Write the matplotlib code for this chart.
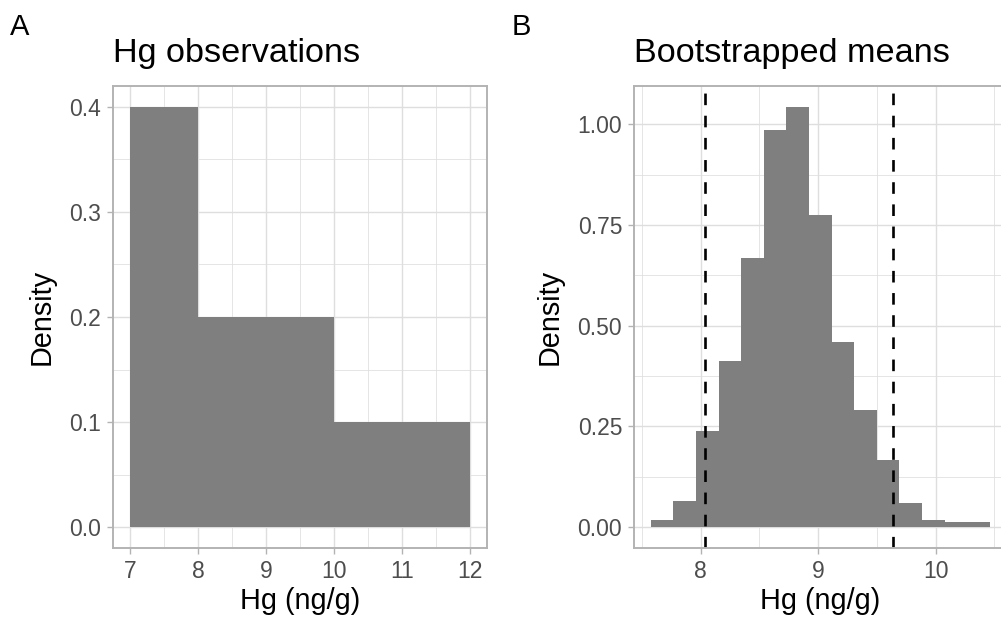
import numpy as np
import matplotlib
matplotlib.use("Agg")
import matplotlib.pyplot as plt
from matplotlib.ticker import MultipleLocator

plt.rcParams['font.family'] = ['Liberation Sans', 'DejaVu Sans']

# panel A: observed Hg histogram
obs_edges = [7, 8, 10, 12]
obs_density = [0.4, 0.2, 0.1]

# panel B: bootstrapped means histogram
boot_edges = [7.576, 7.768, 7.961, 8.153, 8.345, 8.538, 8.730, 8.922,
              9.115, 9.307, 9.499, 9.692, 9.884, 10.076, 10.269, 10.461]
boot_density = [0.0165, 0.0635, 0.239, 0.412, 0.667, 0.986, 1.043, 0.776,
                0.459, 0.291, 0.167, 0.0585, 0.0165, 0.0115, 0.0115]
ci_bounds = [8.037, 9.64]

BAR = '#7F7F7F'
GRID = '#DEDEDE'
BORDER = '#B3B3B3'
TXT = '#4D4D4D'

W, H = 1001, 621
fig = plt.figure(figsize=(W / 100, H / 100), dpi=100)


def expand(lo, hi, f=0.05):
    d = (hi - lo) * f
    return lo - d, hi + d


def style(ax, xmaj, xmin, ymaj, ymin):
    ax.set_axisbelow(True)
    ax.xaxis.set_major_locator(MultipleLocator(xmaj))
    ax.xaxis.set_minor_locator(MultipleLocator(xmin))
    ax.yaxis.set_major_locator(MultipleLocator(ymaj))
    ax.yaxis.set_minor_locator(MultipleLocator(ymin))
    ax.grid(which='major', color=GRID, lw=1.0)
    ax.grid(which='minor', color=GRID, lw=0.55)
    for s in ax.spines.values():
        s.set_color(BORDER)
        s.set_linewidth(1.4)
    ax.tick_params(which='major', length=4.5, width=1.0, color=BORDER,
                   labelsize=16.5, labelcolor=TXT, pad=4)
    ax.tick_params(which='minor', length=0)
    ax.set_xlabel('Hg (ng/g)', fontsize=20.8, labelpad=3)
    ax.set_ylabel('Density', fontsize=20.8, labelpad=10)


def px_axes(l, t, r, b):
    return fig.add_axes([l / W, 1 - b / H, (r - l) / W, (b - t) / H])


# Panel A
axA = px_axes(113, 86, 487, 548)
axA.stairs(obs_density, obs_edges, fill=True, color=BAR, lw=0)
axA.set_xlim(*expand(obs_edges[0], obs_edges[-1]))
axA.set_ylim(*expand(0, max(obs_density)))
style(axA, 1, 0.5, 0.1, 0.05)
axA.yaxis.set_major_formatter(lambda v, p: f'{v:.1f}')
axA.set_title('Hg observations', fontsize=24.7, loc='left', pad=17)
fig.text(10 / W, 1 - 35 / H, 'A', fontsize=21)

# Panel B
axB = px_axes(634, 86, 1006.7, 548)
axB.stairs(boot_density, boot_edges, fill=True, color=BAR, lw=0)
for c in ci_bounds:
    axB.axvline(c, color='black', lw=1.9, dashes=(4.4, 4.0))
axB.set_xlim(*expand(boot_edges[0], boot_edges[-1]))
axB.set_ylim(*expand(0, max(boot_density)))
style(axB, 1, 0.5, 0.25, 0.125)
axB.yaxis.set_major_formatter(lambda v, p: f'{v:.2f}')
axB.set_title('Bootstrapped means', fontsize=24.7, loc='left', pad=17)
fig.text(512 / W, 1 - 35 / H, 'B', fontsize=21)

fig.savefig('out.png', dpi=100)
